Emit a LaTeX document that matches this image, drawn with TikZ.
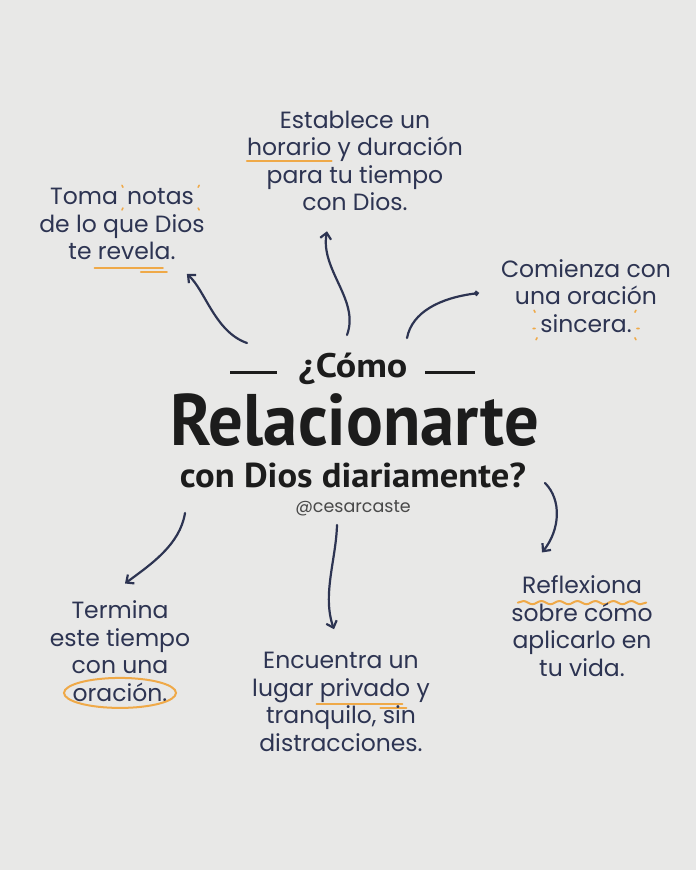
\documentclass[tikz,border=0pt]{standalone}
\usepackage{fontspec}
\setmainfont{Poppins}
\newfontfamily\pregunta[FakeStretch=1.12]{PT Sans}
\newfontfamily\grande[FakeStretch=0.94]{PT Sans}
\newfontfamily\subtitulo[FakeStretch=1.06]{PT Sans}
\usetikzlibrary{arrows.meta,positioning,decorations.pathmorphing}

\definecolor{papel}{HTML}{E8E8E7}
\definecolor{tinta}{HTML}{2D3452}
\definecolor{naranja}{HTML}{EFA948}
\definecolor{negro}{HTML}{1C1C1C}

\tikzset{
	nota/.style={align=center, text=tinta, inner sep=0pt,
		font=\fontsize{23.5}{27.5}\selectfont},
	cabeza/.style={text=negro, inner sep=0pt},
	flecha/.style={draw=tinta, line width=2.2pt, line cap=round,
		-{Straight Barb[length=6pt,width=11pt,line width=2.2pt]}},
	trazo/.style={draw=naranja, line width=2pt, line cap=round, overlay},
}

% marcas naranjas sobre palabras
\newcommand{\subraya}[1]{\tikz[baseline=(w.base)]{\node[inner sep=0pt] (w) {#1};
	\draw[trazo] ([yshift=-5pt]w.base west) -- ([yshift=-5pt]w.base east);}}
\newcommand{\doble}[1]{\tikz[baseline=(w.base)]{\node[inner sep=0pt] (w) {#1};
	\draw[trazo] ([shift={(-3pt,-8pt)}]w.base west) -- ([shift={(-8pt,-8pt)}]w.base east);
	\draw[trazo] ([shift={(-30pt,-12pt)}]w.base east) -- ([shift={(-4pt,-12pt)}]w.base east);}}
\newcommand{\ondula}[1]{\tikz[baseline=(w.base)]{\node[inner sep=0pt] (w) {#1};
	\draw[trazo, decorate, decoration={snake, amplitude=1.6pt, segment length=18pt}]
		([shift={(-4pt,-9pt)}]w.base west) -- ([shift={(4pt,-9pt)}]w.base east);}}
\newcommand{\rodea}[1]{\tikz[baseline=(w.base)]{\node[inner sep=0pt] (w) {#1};
	\draw[trazo] ([yshift=-1pt]w.center) ellipse [x radius=56pt, y radius=15pt];}}
\newcommand{\brilla}[1]{\tikz[baseline=(w.base)]{\node[inner sep=0pt] (w) {#1};
	\draw[trazo, line width=1.6pt]
		([shift={(-4pt,1pt)}]w.north west) -- ++(-1pt,2pt)
		([shift={(-4pt,-3pt)}]w.south west) -- ++(-1pt,-2pt)
		([shift={(4pt,1pt)}]w.north east) -- ++(1pt,2pt)
		([shift={(4pt,-3pt)}]w.south east) -- ++(1pt,-2pt);}}
\newcommand{\chispas}[1]{\tikz[baseline=(w.base)]{\node[inner sep=0pt] (w) {#1};
	\draw[trazo, line width=1.6pt]
		([shift={(-5pt,2pt)}]w.north west) -- ++(-1pt,2pt)
		([shift={(-5pt,-5pt)}]w.west) -- ++(-2pt,0pt)
		([shift={(-3pt,-5pt)}]w.south west) -- ++(-1pt,-2pt)
		([shift={(3pt,2pt)}]w.north east) -- ++(1pt,2pt)
		([shift={(5pt,-5pt)}]w.east) -- ++(2pt,0pt)
		([shift={(3pt,-5pt)}]w.south east) -- ++(1pt,-2pt);}}

\begin{document}
\begin{tikzpicture}[x=1pt, y=-1pt]
	\fill[papel] (0,0) rectangle (696,870);
	\useasboundingbox (0,0) rectangle (696,870);

	% titulo central
	\node[cabeza, font=\pregunta\bfseries\fontsize{34}{34}\selectfont] (como) at (353,369) {¿Cómo};
	\node[cabeza, font=\grande\bfseries\fontsize{73}{73}\selectfont] (relacion) at (355,420) {Relacionarte};
	\node[cabeza, font=\subtitulo\bfseries\fontsize{34.5}{34.5}\selectfont] (diaria) at (353,475) {con Dios diariamente?};
	\node[cabeza, text=negro!80, font=\fontsize{17.5}{17.5}\selectfont] (firma) at (353,508) {@cesarcaste};
	\draw[negro, line width=3pt] (230,372) -- (277,372);
	\draw[negro, line width=3pt] (425,372) -- (475,372);

	% notas
	\node[nota] (toma) at (122,224) {Toma\hspace{3pt} \brilla{notas}\\de lo que Dios\\te \doble{revela}.};
	\node[nota] (establece) at (355,161) {Establece un\\\subraya{horario} y duración\\para tu tiempo\\con Dios.};
	\node[nota] (comienza) at (586,296) {Comienza con\\una oración\\\chispas{sincera.}};
	\node[nota] (reflexiona) at (582,626) {\ondula{Reflexiona}\\sobre cómo\\aplicarlo en\\tu vida.};
	\node[nota] (encuentra) at (341,702) {Encuentra un\\lugar \doble{privado} y\\tranquilo, sin\\distracciones.};
	\node[nota] (termina) at (120,651) {Termina\\este tiempo\\con una\\\rodea{oración.}};

	% flechas
	\coordinate (t1) at (247,343);
	\coordinate (t2) at (347,335);
	\coordinate (t3) at (407,338);
	\coordinate (t4) at (545,483);
	\coordinate (t5) at (337,525);
	\coordinate (t6) at (185,513);
	\draw[flecha] (t1) .. controls (215,332) and (205,290) .. ([shift={(-18,14)}]toma.south east);
	\draw[flecha] (t2) .. controls (360,300) and (320,270) .. ([shift={(-28,20)}]establece.south);
	\draw[flecha, -{Circle[length=5pt]}] (t3) .. controls (412,312) and (440,298) .. ([shift={(-22,-3)}]comienza.west);
	\draw[flecha] (t4) .. controls (562,500) and (560,530) .. ([shift={(-40,-23)}]reflexiona.north);
	\draw[flecha] (t5) .. controls (336,560) and (322,595) .. ([shift={(-7,-23)}]encuentra.north);
	\draw[flecha] (t6) .. controls (180,545) and (150,565) .. ([shift={(5,-17)}]termina.north);
\end{tikzpicture}
\end{document}
